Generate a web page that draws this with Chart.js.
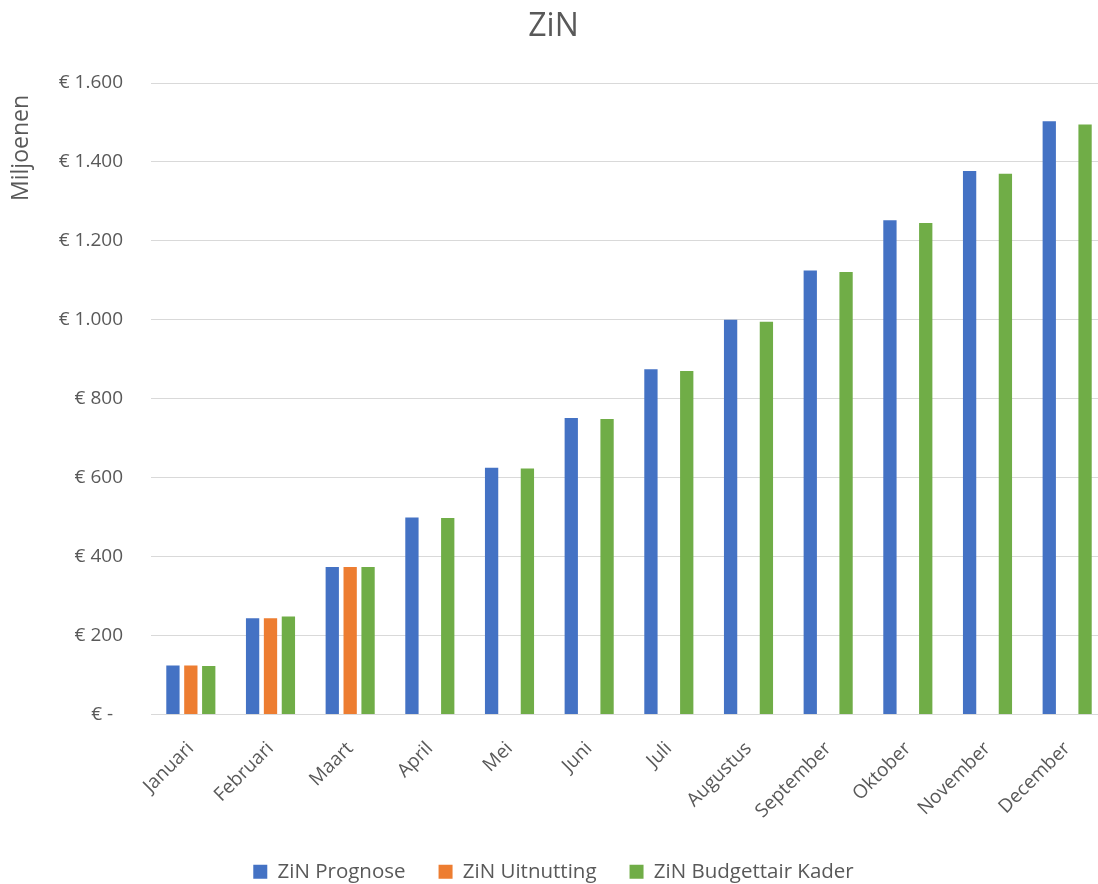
<!DOCTYPE html>
<html>
<head>
<meta charset="utf-8">
<script src="https://cdn.jsdelivr.net/npm/chart.js@4"></script>
<style>
html,body{margin:0;padding:0;background:#fff;overflow:hidden;width:1098px;height:884px;}
#wrap{width:1116px;height:892px;position:relative;}
</style>
</head>
<body>
<div id="wrap"><canvas id="c" width="1116" height="892"></canvas></div>
<script>
const categories = ["Januari","Februari","Maart","April","Mei","Juni","Juli","Augustus","September","Oktober","November","December"];
const prognose = [124, 244, 374, 499, 625, 751, 875, 1000, 1125, 1252, 1377, 1503];
const uitnutting = [124, 244, 374, null, null, null, null, null, null, null, null, null];
const kader = [123, 248, 374, 498, 623, 749, 870, 995, 1121, 1245, 1370, 1495];
const yTicks = [0, 200, 400, 600, 800, 1000, 1200, 1400, 1600];

function euro(v){
  if (v === 0) return "€ -  ";
  return "€ " + v.toLocaleString("nl-NL");
}

const FONT = "'Open Sans'";
const TXT = "#595959";
const GRID = "#d9d9d9";

new Chart(document.getElementById("c"), {
  type: "bar",
  data: {
    labels: categories,
    datasets: [
      {label: "ZiN Prognose", data: prognose, backgroundColor: "#4472C4"},
      {label: "ZiN Uitnutting", data: uitnutting, backgroundColor: "#ED7D31"},
      {label: "ZiN Budgettair Kader", data: kader, backgroundColor: "#70AD47"}
    ]
  },
  options: {
    responsive: false,
    animation: false,
    devicePixelRatio: 1,
    datasets: {bar: {categoryPercentage: 0.674, barPercentage: 0.743}},
    layout: {padding: {left: 0, right: 9, top: 0, bottom: 0}},
    plugins: {
      title: {display: true, text: "ZiN", color: TXT, font: {family: FONT, size: 32, weight: "normal"}, padding: {top: 8, bottom: 36.6}},
      legend: {
        position: "bottom",
        labels: {color: TXT, font: {family: FONT, size: 20.5}, boxWidth: 14, boxHeight: 14, padding: 33}
      },
      tooltip: {enabled: false}
    },
    scales: {
      x: {
        grid: {display: false, drawTicks: false},
        border: {display: true, color: GRID, width: 1},
        ticks: {color: TXT, font: {family: FONT, size: 19}, minRotation: 45, maxRotation: 45, padding: 23, autoSkip: false},
        afterFit: (a) => { a.height = 114; }
      },
      y: {
        min: 0, max: 1600,
        afterBuildTicks: (a) => { a.ticks = yTicks.map(v => ({value: v})); },
        grid: {color: GRID, lineWidth: 1, drawTicks: false},
        border: {display: false},
        ticks: {color: TXT, font: {family: FONT, size: 19}, padding: 28, callback: (v) => euro(v)},
        title: {display: true, text: "Miljoenen  ", align: "end", color: TXT, font: {family: FONT, size: 23}, padding: {top: 8, bottom: 0}},
        afterFit: (a) => { a.width = 151; }
      }
    }
  }
});
</script>
</body>
</html>
